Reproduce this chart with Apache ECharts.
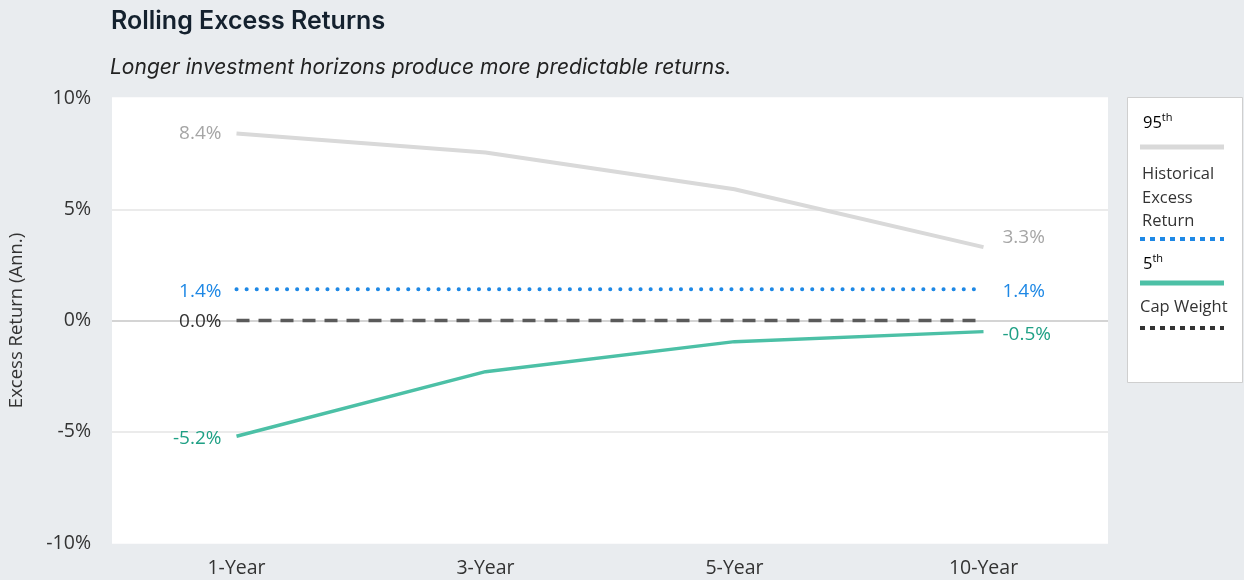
<!DOCTYPE html>
<html><head><meta charset="utf-8">
<script src="https://cdn.jsdelivr.net/npm/echarts@6/dist/echarts.min.js"></script>
<style>html,body{margin:0;padding:0;background:#e9ecef;}#c{width:1244px;height:580px;}</style>
</head><body><div id="c"></div>
<script>
const categories = ['1-Year', '3-Year', '5-Year', '10-Year'];
const p95 = [8.4, 7.55, 5.9, 3.3];
const historical = [1.4, 1.4, 1.4, 1.4];
const p5 = [-5.2, -2.3, -0.95, -0.5];
const capWeight = [0.0, 0.0, 0.0, 0.0];
const yTicks = [-10, -5, 0, 5, 10];

const FONT = '"Open Sans", "Noto Sans", sans-serif';

function lineSeries(name, values, labelColor, lineStyle, z, opts) {
  const last = values.length - 1;
  const o = Object.assign({first: true, last: true, firstOffset: [0, 0], lastOffset: [0, 0]}, opts || {});
  return {name: name, type: 'line', data: values.map((v, i) => ({
      value: v,
      label: {
        show: (i === 0 && o.first) || (i === last && o.last),
        position: i === 0 ? 'left' : 'right',
        distance: i === 0 ? 14 : 18,
        offset: i === 0 ? o.firstOffset : o.lastOffset
      }
    })),
    symbol: 'circle', symbolSize: 2, showSymbol: true,
    itemStyle: {color: 'rgba(255,255,255,0)'},
    label: {show: false, color: labelColor, fontSize: 19, fontFamily: FONT,
      formatter: p => Number(p.value).toFixed(1) + '%'},
    lineStyle: lineStyle, z: z};
}

const chart = echarts.init(document.getElementById('c'), null, {renderer: 'canvas'});
const option = {
  backgroundColor: '#e9ecef',
  animation: false,
  title: [
    {text: 'Rolling Excess Returns', left: 106, top: 4, textStyle: {fontFamily: 'Inter, sans-serif', fontWeight: 600, fontSize: 25, color: '#14212e'}},
    {text: 'Longer investment horizons produce more predictable returns.', left: 105, top: 52, textStyle: {fontFamily: 'Inter, sans-serif', fontStyle: 'italic', fontWeight: 'normal', fontSize: 21, color: '#222'}}
  ],
  grid: {left: 112, right: 136, top: 98, bottom: 37, show: true, backgroundColor: '#ffffff', borderWidth: 0, containLabel: false, outerBoundsMode: 'none'},
  xAxis: {
    type: 'category', data: categories, boundaryGap: true,
    axisLine: {show: false}, axisTick: {show: false},
    axisLabel: {fontFamily: FONT, fontSize: 19.5, color: '#333', margin: 15}
  },
  yAxis: {
    type: 'value', min: yTicks[0], max: yTicks[yTicks.length - 1], interval: 5,
    name: 'Excess Return (Ann.)', nameLocation: 'middle', nameGap: 86, nameRotate: 90,
    nameTextStyle: {fontFamily: FONT, fontSize: 18.5, color: '#333'},
    axisLine: {show: false}, axisTick: {show: false},
    axisLabel: {fontFamily: FONT, fontSize: 19.5, color: '#333', margin: 21, formatter: '{value}%'},
    splitLine: {show: true, lineStyle: {color: ['#ffffff', '#e4e4e4', '#c6c6c6', '#e4e4e4', '#ffffff'], width: 1.5}}
  },
  series: [
    lineSeries('95th', p95, '#a6a6a6', {color: '#d9d9d9', width: 4}, 3, {lastOffset: [0, -9]}),
    lineSeries('Historical Excess Return', historical, '#1e88e5', {color: '#1e88e5', width: 4, type: [0.1, 10], cap: 'round'}, 4, {firstOffset: [0, 2], lastOffset: [0, 2]}),
    lineSeries('5th', p5, '#1fa085', {color: '#4cc0a6', width: 3.5}, 3, {firstOffset: [0, 2], lastOffset: [0, 3]}),
    lineSeries('Cap Weight', capWeight, '#333333', {color: '#5a5a5a', width: 3.5, type: [13, 9]}, 5, {last: false, firstOffset: [0, 1]})
  ],
  graphic: [
    {type: 'rect', left: 1127, top: 97, shape: {width: 115, height: 285}, style: {fill: '#ffffff', stroke: '#cfcfcf', lineWidth: 1}},
    {type: 'text', left: 1143, top: 112, style: {text: '{b|95}{s|th}', rich: {b: {fontFamily: FONT, fontSize: 16.5, color: '#333', lineHeight: 22}, s: {fontFamily: FONT, fontSize: 11, color: '#333', verticalAlign: 'top', lineHeight: 12, padding: [0, 0, 6, 0]}}}},
    {type: 'line', shape: {x1: 1140, y1: 147, x2: 1224, y2: 147}, style: {stroke: '#d9d9d9', lineWidth: 5}},
    {type: 'text', left: 1142, top: 163, style: {text: 'Historical\nExcess\nReturn', fontFamily: FONT, fontSize: 16.5, lineHeight: 23.5, fill: '#333'}},
    {type: 'line', shape: {x1: 1140, y1: 239, x2: 1224, y2: 239}, style: {stroke: '#1e88e5', lineWidth: 4, lineDash: [5, 5]}},
    {type: 'text', left: 1143, top: 253, style: {text: '{b|5}{s|th}', rich: {b: {fontFamily: FONT, fontSize: 16.5, color: '#333', lineHeight: 22}, s: {fontFamily: FONT, fontSize: 11, color: '#333', verticalAlign: 'top', lineHeight: 12, padding: [0, 0, 6, 0]}}}},
    {type: 'line', shape: {x1: 1140, y1: 283, x2: 1224, y2: 283}, style: {stroke: '#4cc0a6', lineWidth: 5}},
    {type: 'text', left: 1140, top: 299, style: {text: 'Cap Weight', fontFamily: FONT, fontSize: 16.5, fill: '#333'}},
    {type: 'line', shape: {x1: 1140, y1: 328, x2: 1224, y2: 328}, style: {stroke: '#333', lineWidth: 4, lineDash: [5, 5]}}
  ]
};
chart.setOption(option);
</script></body></html>
